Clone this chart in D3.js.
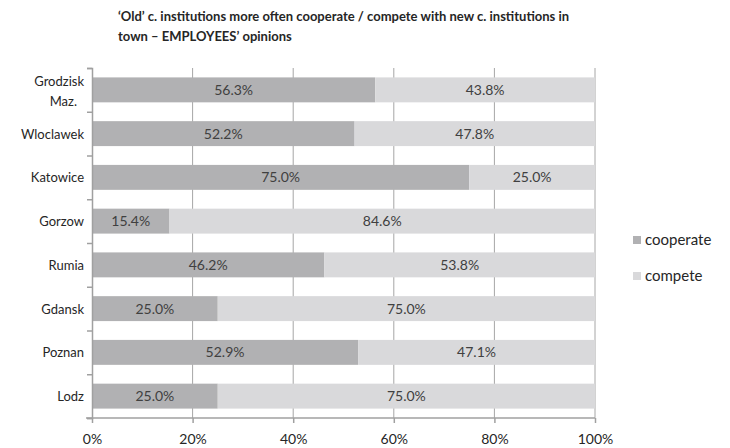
<!DOCTYPE html>
<html><head><meta charset="utf-8">
<script src="https://cdn.jsdelivr.net/npm/d3@7"></script>
<style>body{margin:0;background:#fff;} svg{display:block;font-family:Lato,"Open Sans",sans-serif;}</style>
</head><body><svg id="c" width="730" height="448"></svg>
<script>
const categories = ["Grodzisk Maz.","Wloclawek","Katowice","Gorzow","Rumia","Gdansk","Poznan","Lodz"];
const cooperate = [56.3,52.2,75.0,15.4,46.2,25.0,52.9,25.0];
const compete = [43.8,47.8,25.0,84.6,53.8,75.0,47.1,75.0];
const seriesNames = ["cooperate","compete"];
const xTicks = [0,20,40,60,80,100];
const titleLines = ["‘Old’ c. institutions more often cooperate / compete with new c. institutions in","town – EMPLOYEES’ opinions"];

const colors = {cooperate:"#b1b1b3", compete:"#d9d9db"};
const svg = d3.select("#c");
const x = d3.scaleLinear().domain([0,100]).range([92,595]);
const y = d3.scaleBand().domain(categories).range([68,418]).paddingInner(0.43).paddingOuter(0.215);

// title
svg.append("text").attr("x",118).attr("y",21).attr("font-size",13).attr("font-weight","bold").attr("fill","#262626")
  .selectAll("tspan").data(titleLines).join("tspan").attr("x",118).attr("dy",(d,i)=>i?20:0).text(d=>d);

// gridlines
svg.append("g").selectAll("line").data(xTicks.slice(1)).join("line")
  .attr("x1",d=>x(d)).attr("x2",d=>x(d)).attr("y1",68).attr("y2",418)
  .attr("stroke","#a6a6a6").attr("stroke-width",1);

// bars
const rows = categories.map((c,i)=>({cat:c, cooperate:cooperate[i], compete:compete[i]}));
const stack = d3.stack().keys(seriesNames)(rows);
const g = svg.append("g");
stack.forEach(s=>{
  g.selectAll(null).data(s).join("rect")
    .attr("x",d=>x(d[0])).attr("width",d=>x(Math.min(d[1],100))-x(d[0]))
    .attr("y",d=>y(d.data.cat)).attr("height",y.bandwidth())
    .attr("fill",colors[s.key]);
  g.selectAll(null).data(s).join("text")
    .attr("x",d=>(x(d[0])+x(Math.min(d[1],100)))/2).attr("y",d=>y(d.data.cat)+y.bandwidth()/2+5)
    .attr("text-anchor","middle").attr("font-size",14).attr("fill","#404040")
    .text(d=>(d[1]-d[0]).toFixed(1)+"%");
});

// y axis
const yAxis = d3.axisLeft(d3.scaleLinear().domain([0,8]).range([68,418])).tickValues(d3.range(9)).tickSize(5).tickFormat("");
const ya = svg.append("g").attr("transform","translate(92,0)").call(yAxis);
ya.selectAll("path,line").attr("stroke","#a0a0a0").attr("stroke-width",1.5);
// category labels
svg.append("g").selectAll("text").data(categories).join("text")
  .attr("text-anchor","end").attr("font-size",13).attr("fill","#262626")
  .each(function(d){
    const parts = d==="Grodzisk Maz." ? ["Grodzisk","Maz."] : [d];
    const cy = y(d)+y.bandwidth()/2;
    const t = d3.select(this);
    if(parts.length===1){ t.append("tspan").attr("x",84).attr("y",cy+5).text(parts[0]); }
    else { t.append("tspan").attr("x",84).attr("y",cy-4).text(parts[0]);
           t.append("tspan").attr("x",77).attr("y",cy+16).text(parts[1]); }
  });

// x axis
const xa = svg.append("g").attr("transform","translate(0,418)")
  .call(d3.axisBottom(x).tickValues(xTicks).tickSize(5).tickSizeOuter(0).tickFormat(d=>d+"%"));
xa.selectAll("path,line").attr("stroke","#a0a0a0").attr("stroke-width",1.5);
xa.select(".domain").attr("d","M86,0H595");
xa.selectAll("text").attr("font-size",14).attr("fill","#262626").attr("font-family","Lato,'Open Sans',sans-serif").attr("dy","1.25em");

// legend
const lg = svg.append("g").selectAll("g").data(seriesNames).join("g")
  .attr("transform",(d,i)=>`translate(633,${236+i*36})`);
lg.append("rect").attr("width",8).attr("height",8).attr("fill",d=>colors[d]);
lg.append("text").attr("x",12).attr("y",9).attr("font-size",15).attr("fill","#262626").text(d=>d);
</script></body></html>
